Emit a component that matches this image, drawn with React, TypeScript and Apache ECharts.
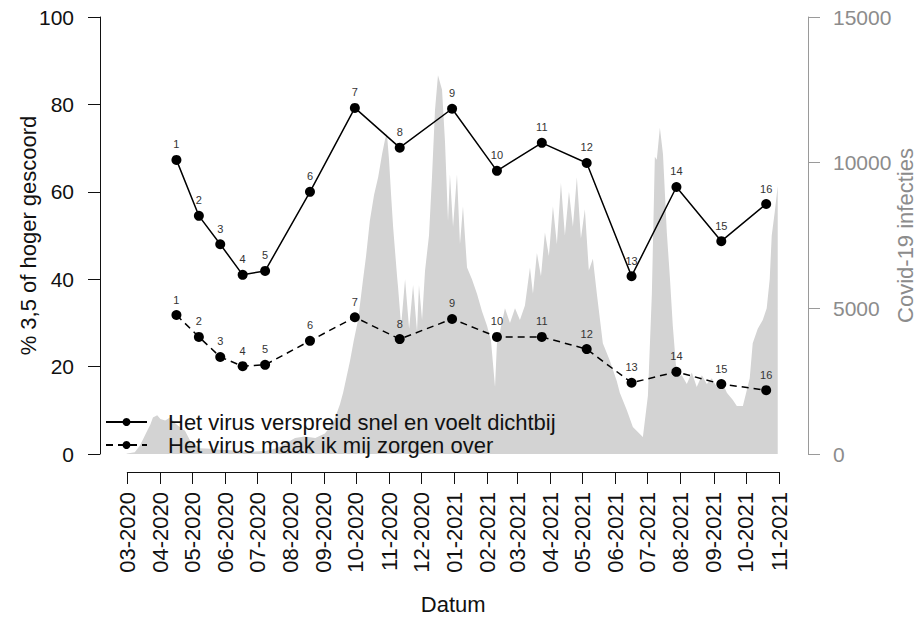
import React, { useEffect, useRef } from "react";
import * as echarts from "echarts";

// Survey waves (x = survey date, y = % scoring 3.5 or higher)
const surveyDates = [
  "2020-04-16", "2020-05-07", "2020-05-27", "2020-06-17", "2020-07-08", "2020-08-19",
  "2020-09-30", "2020-11-11", "2020-12-30", "2021-02-10", "2021-03-24", "2021-05-05",
  "2021-06-16", "2021-07-28", "2021-09-08", "2021-10-20",
];
const waveLabels = ["1", "2", "3", "4", "5", "6", "7", "8", "9", "10", "11", "12", "13", "14", "15", "16"];
const spreadValues = [67.3, 54.5, 48.0, 41.0, 41.9, 60.0, 79.2, 70.1, 79.0, 64.8, 71.2, 66.6, 40.7, 61.1, 48.7, 57.2];
const worryValues = [31.8, 26.8, 22.2, 20.1, 20.4, 25.9, 31.3, 26.3, 30.9, 26.8, 26.8, 24.0, 16.3, 18.8, 16.0, 14.6];
const seriesNames = [
  "Het virus verspreid snel en voelt dichtbij",
  "Het virus maak ik mij zorgen over",
];

// Month ticks on the date axis
const monthTicks = [
  "2020-03-01", "2020-04-01", "2020-05-01", "2020-06-01", "2020-07-01", "2020-08-01",
  "2020-09-01", "2020-10-01", "2020-11-01", "2020-12-01", "2021-01-01", "2021-02-01",
  "2021-03-01", "2021-04-01", "2021-05-01", "2021-06-01", "2021-07-01", "2021-08-01",
  "2021-09-01", "2021-10-01", "2021-11-01",
];

// Daily Covid-19 infections (day offset from infectionStart, count)
const infectionStart = "2020-03-01";
const infectionDay = [
  -1, 0, 7, 12, 19, 21.5, 24, 28, 31, 35.5, 40, 45, 50, 54, 59, 64, 68, 78, 87, 101, 115, 129, 138, 148,
  157, 166, 176, 185, 193, 199, 202, 208.5, 212, 216, 220.7, 223.5, 227, 231, 234.8, 238.5, 241.3, 243,
  245, 246.9, 248.8, 252.5, 253.5, 256.3, 260, 263.8, 267.5, 271.2, 273, 275.9, 278.7, 282.4, 285.2, 288,
  290.8, 294.6, 297.4, 300.2, 302, 304.9, 308.6, 311.4, 314.2, 318, 322.6, 327.3, 332, 336.7, 340.4,
  344.2, 346, 348.8, 353.5, 358.2, 362.9, 367.5, 372.2, 376.9, 379.7, 383.4, 387.2, 390.9, 394.6, 398.4,
  402.1, 405.9, 409.6, 413.4, 417.1, 420.8, 424.6, 428.3, 432, 435.8, 439.5, 445.1, 451.7, 458.2, 461,
  467.6, 473.2, 482.6, 487.3, 491, 493.8, 495.6, 498.5, 501.4, 505, 507.8, 510.6, 514.4, 519, 523.7,
  528.4, 533, 537.8, 542.4, 547.1, 551.8, 556.5, 561.2, 566.8, 570.5, 576.2, 582.6, 585.4, 590.1, 594.8,
  598.5, 601.3, 603.2, 606, 608.8, 612.6,
];
const infectionCount = [
  0, 20, 60, 300, 820, 1000, 1250, 1330, 1200, 1150, 1250, 1050, 900, 800, 450, 300, 200, 180, 150, 120,
  80, 100, 180, 350, 550, 600, 550, 700, 1100, 1700, 2100, 3200, 3900, 4600, 6000, 6800, 8000, 8900, 9500,
  10300, 10800, 11000, 10100, 8900, 7800, 6100, 5700, 4400, 6000, 4300, 5800, 4200, 5800, 4600, 6300, 7500,
  9500, 11800, 13000, 12500, 10700, 8000, 9600, 7800, 9600, 7200, 8500, 6400, 6000, 5500, 4900, 4400, 3900,
  2300, 3800, 4200, 5000, 4500, 5000, 4600, 5100, 6400, 5500, 6900, 6100, 7600, 6800, 8500, 7200, 9300,
  7500, 9000, 7800, 9500, 7400, 8400, 6300, 6700, 5500, 3800, 3200, 2500, 2100, 1500, 930, 580, 2000, 5500,
  10200, 10100, 11200, 10300, 7600, 6100, 4400, 2650, 2700, 2400, 2800, 2300, 2700, 2400, 2600, 2300, 2500,
  2100, 1850, 1650, 1650, 2600, 3800, 4300, 4600, 5000, 6000, 7500, 8300, 9200,
];

const DAY = 86400000;
const FONT = "'Liberation Sans', Arial, Helvetica, sans-serif";
const ts = (s: string) => {
  const [y, m, d] = s.split("-").map(Number);
  return Date.UTC(y, m - 1, d);
};

export default function App() {
  const ref = useRef<HTMLDivElement>(null);

  useEffect(() => {
    if (!ref.current) return;
    const chart = echarts.init(ref.current, undefined, { renderer: "svg" });

    const W = 917;
    const gridLeft = 100;
    const gridRight = 109;
    const plotW = W - gridLeft - gridRight;

    const startTs = ts(infectionStart);
    const areaData = infectionDay.map((d, i) => [startTs + d * DAY, infectionCount[i]]);
    const dataMin = areaData[0][0];
    const dataMax = areaData[areaData.length - 1][0];
    const pad = (dataMax - dataMin) * 0.04;
    const xMin = dataMin - pad;
    const xMax = dataMax + pad;

    const tickTs = monthTicks.map(ts);
    const tMin = tickTs[0];
    const tMax = tickTs[tickTs.length - 1];
    const axLeft = gridLeft + ((tMin - xMin) / (xMax - xMin)) * plotW;
    const axRight = W - (gridLeft + ((tMax - xMin) / (xMax - xMin)) * plotW);

    const pointLabel = {
      show: true,
      position: "top" as const,
      distance: 5,
      fontSize: 11,
      color: "#333",
      fontFamily: FONT,
      formatter: (p: any) => waveLabels[p.dataIndex],
    };

    const fmtMonth = (v: number) => {
      const d = new Date(v);
      return String(d.getUTCMonth() + 1).padStart(2, "0") + "-" + d.getUTCFullYear();
    };

    chart.setOption({
      animation: false,
      backgroundColor: "#fff",
      textStyle: { fontFamily: FONT },
      grid: [
        { left: gridLeft, right: gridRight, top: 17, bottom: 163, containLabel: false, outerBoundsMode: "none" },
        { left: axLeft, right: axRight, top: 440, bottom: 145, containLabel: false, outerBoundsMode: "none" },
      ],
      legend: {
        orient: "vertical",
        left: 100,
        top: 406,
        itemWidth: 41,
        itemHeight: 10,
        itemGap: 1,
        data: seriesNames,
        textStyle: {
          fontSize: 22,
          color: "#111",
          fontFamily: FONT,
          lineHeight: 22,
          padding: [0, 0, 0, 16],
        },
      },
      xAxis: [
        { type: "value", gridIndex: 0, min: xMin, max: xMax, show: false },
        {
          type: "value",
          gridIndex: 1,
          min: tMin,
          max: tMax,
          position: "bottom",
          name: "Datum",
          nameLocation: "middle",
          nameGap: 121,
          nameMoveOverlap: false,
          nameTextStyle: { fontSize: 22, color: "#111", fontFamily: FONT },
          axisLine: { show: true, lineStyle: { color: "#111", width: 1 } },
          axisTick: { show: true, length: 12, customValues: tickTs, lineStyle: { color: "#111" } },
          axisLabel: {
            show: true,
            rotate: 90,
            margin: 20,
            fontSize: 22,
            color: "#111",
            fontFamily: FONT,
            customValues: tickTs,
            formatter: fmtMonth,
          },
          splitLine: { show: false },
        },
      ],
      yAxis: [
        {
          type: "value",
          gridIndex: 0,
          position: "left",
          min: 0,
          max: 100,
          interval: 20,
          name: "% 3,5 of hoger gescoord",
          nameLocation: "middle",
          nameGap: 61,
          nameRotate: 90,
          nameMoveOverlap: false,
          nameTextStyle: { fontSize: 22, color: "#111", fontFamily: FONT },
          axisLine: { show: true, lineStyle: { color: "#111", width: 1 } },
          axisTick: { show: true, length: 12, lineStyle: { color: "#111" } },
          axisLabel: { margin: 26, fontSize: 21, color: "#111", fontFamily: FONT },
          splitLine: { show: false },
        },
        {
          type: "value",
          gridIndex: 0,
          position: "right",
          min: 0,
          max: 15000,
          interval: 5000,
          name: "Covid-19 infecties",
          nameLocation: "middle",
          nameGap: 86,
          nameRotate: 90,
          nameMoveOverlap: false,
          nameTextStyle: { fontSize: 22, color: "#8c8c8c", fontFamily: FONT },
          axisLine: { show: true, lineStyle: { color: "#9a9a9a", width: 1 } },
          axisTick: { show: true, length: 12, lineStyle: { color: "#9a9a9a" } },
          axisLabel: {
            margin: 25,
            fontSize: 21,
            color: "#8c8c8c",
            fontFamily: FONT,
            formatter: (v: number) => String(v),
          },
          splitLine: { show: false },
        },
        {
          type: "value",
          gridIndex: 1,
          min: 0,
          max: 1,
          show: false,
        },
      ],
      series: [
        {
          name: "Covid-19 infecties",
          type: "line",
          xAxisIndex: 0,
          yAxisIndex: 1,
          data: areaData,
          symbol: "none",
          lineStyle: { width: 0 },
          areaStyle: { color: "#d3d3d3", opacity: 1 },
          silent: true,
          z: 1,
        },
        {
          name: seriesNames[0],
          type: "line",
          xAxisIndex: 0,
          yAxisIndex: 0,
          data: surveyDates.map((d, i) => [ts(d), spreadValues[i]]),
          symbol: "circle",
          symbolSize: 10,
          itemStyle: { color: "#000" },
          lineStyle: { color: "#000", width: 1.5 },
          label: pointLabel,
          z: 3,
        },
        {
          name: seriesNames[1],
          type: "line",
          xAxisIndex: 0,
          yAxisIndex: 0,
          data: surveyDates.map((d, i) => [ts(d), worryValues[i]]),
          symbol: "circle",
          symbolSize: 10,
          itemStyle: { color: "#000" },
          lineStyle: { color: "#000", width: 1.5, type: [7, 5] },
          label: pointLabel,
          z: 3,
        },
      ],
    });

    return () => chart.dispose();
  }, []);

  return (
    <div
      ref={ref}
      style={{ position: "fixed", left: 0, top: 0, width: 917, height: 617, background: "#fff" }}
    />
  );
}
